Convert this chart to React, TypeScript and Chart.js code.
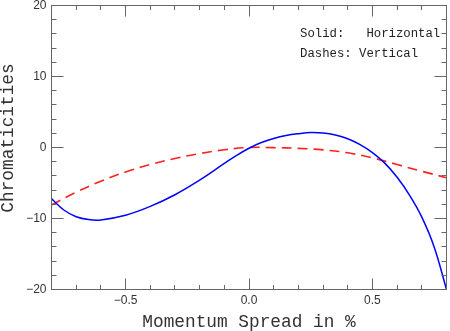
import React, { useEffect, useRef } from "react";
import { Chart, registerables } from "chart.js";

Chart.register(...registerables);

// Momentum spread (%) and chromaticities
const momentumH = [-0.8, -0.75, -0.7, -0.65, -0.6, -0.5, -0.4, -0.3, -0.2, -0.1, -0.05, 0, 0.05, 0.1, 0.15, 0.2, 0.25, 0.3, 0.35, 0.4, 0.45, 0.5, 0.55, 0.6, 0.65, 0.7, 0.75, 0.8];
const chromaH = [-7.2, -8.8, -9.75, -10.15, -10.2, -9.55, -8.3, -6.65, -4.6, -2.25, -1.1, -0.1, 0.7, 1.28, 1.7, 1.95, 2.1, 2.03, 1.75, 1.23, 0.4, -0.72, -2.2, -4.2, -6.7, -9.8, -14.0, -20.0];

const momentumV = [-0.8, -0.7, -0.6, -0.5, -0.4, -0.3, -0.2, -0.1, 0, 0.1, 0.2, 0.3, 0.4, 0.5, 0.6, 0.7, 0.8];
const chromaV = [-8.1, -6.3, -4.75, -3.45, -2.4, -1.55, -0.85, -0.32, 0, -0.02, -0.12, -0.33, -0.75, -1.45, -2.4, -3.35, -4.25];

const xTitle = "Momentum Spread in %";
const yTitle = "Chromaticities";
const legendLines = ["Solid:   Horizontal", "Dashes: Vertical"];

const xMajorStep = 0.5;
const yMajorStep = 10;

const isMajor = (v: number, step: number) => {
  const r = v / step;
  return Math.abs(r - Math.round(r)) < 1e-6;
};
const fmt = (s: string) => s.replace("-", "\u2212");

const MONO = '"Liberation Mono", "Courier New", monospace';
const SANS = '"Liberation Sans", Arial, sans-serif';

const framePlugin = {
  id: "frameTicks",
  afterDraw(chart: any) {
    const { ctx, chartArea, scales } = chart;
    const { left, right, top, bottom } = chartArea;
    const xs = scales.x;
    const ys = scales.y;
    const L = Math.floor(left) + 0.5;
    const R = Math.floor(right) + 0.5;
    const T = Math.floor(top) + 0.5;
    const B = Math.floor(bottom) + 0.5;
    ctx.save();
    ctx.strokeStyle = "#666";
    ctx.lineWidth = 1;
    ctx.strokeRect(L, T, R - L, B - T);
    ctx.beginPath();
    xs.ticks.forEach((t: any) => {
      const px = Math.floor(xs.getPixelForValue(t.value)) + 0.5;
      const len = isMajor(t.value, xMajorStep) ? 11 : 4.5;
      ctx.moveTo(px, B);
      ctx.lineTo(px, B - len);
      ctx.moveTo(px, T);
      ctx.lineTo(px, T + len);
    });
    ys.ticks.forEach((t: any) => {
      const py = Math.floor(ys.getPixelForValue(t.value)) + 0.5;
      const len = isMajor(t.value, yMajorStep) ? 12 : 5;
      ctx.moveTo(L, py);
      ctx.lineTo(L + len, py);
      ctx.moveTo(R, py);
      ctx.lineTo(R - len, py);
    });
    ctx.stroke();

    // legend text
    ctx.fillStyle = "#222";
    ctx.font = `12.3px ${MONO}`;
    ctx.textAlign = "left";
    ctx.textBaseline = "alphabetic";
    ctx.fillText(legendLines[0], 300, 37.3);
    ctx.fillText(legendLines[1], 300, 56.7);

    // axis titles
    ctx.fillStyle = "#333";
    ctx.font = `17.8px ${MONO}`;
    ctx.textAlign = "center";
    ctx.fillText(xTitle, (left + right) / 2, 326.7);
    ctx.save();
    ctx.translate(13.3, 138);
    ctx.rotate(-Math.PI / 2);
    ctx.fillText(yTitle, 0, 0);
    ctx.restore();
    ctx.restore();
  },
};

export default function App() {
  const ref = useRef<HTMLCanvasElement>(null);
  useEffect(() => {
    const canvas = ref.current;
    if (!canvas) return;
    const chart = new Chart(canvas, {
      type: "line",
      data: {
        datasets: [
          {
            label: "Horizontal",
            data: momentumH.map((x, i) => ({ x, y: chromaH[i] })),
            borderColor: "#0000ff",
            borderWidth: 1.5,
            pointRadius: 0,
            tension: 0.4,
            fill: false,
          },
          {
            label: "Vertical",
            data: momentumV.map((x, i) => ({ x, y: chromaV[i] })),
            borderColor: "#ff2020",
            borderWidth: 1.6,
            borderDash: [10, 6],
            pointRadius: 0,
            tension: 0.4,
            fill: false,
          },
        ],
      },
      options: {
        responsive: false,
        animation: false,
        layout: { padding: { top: 5.5, right: 3.5, left: 0, bottom: 0 } },
        plugins: { legend: { display: false }, tooltip: { enabled: false } },
        scales: {
          x: {
            type: "linear",
            min: -0.8,
            max: 0.8,
            grid: { display: false, drawTicks: false },
            border: { display: false },
            ticks: {
              stepSize: 0.1,
              autoSkip: false,
              maxRotation: 0,
              padding: 4,
              color: "#333",
              font: { family: SANS, size: 12 },
              callback: (v: any) => (isMajor(Number(v), xMajorStep) ? fmt((Math.round(Number(v) / xMajorStep) * xMajorStep).toFixed(1)) : ""),
            },
            afterFit: (s: any) => {
              s.height = 41.5;
              s.paddingLeft = 0;
              s.paddingRight = 0;
            },
          },
          y: {
            type: "linear",
            min: -20,
            max: 20,
            grid: { display: false, drawTicks: false },
            border: { display: false },
            ticks: {
              stepSize: 2,
              autoSkip: false,
              padding: 5,
              color: "#333",
              font: { family: SANS, size: 12 },
              callback: (v: any) => (isMajor(Number(v), yMajorStep) ? fmt(String(Math.round(Number(v)))) : ""),
            },
            afterFit: (s: any) => {
              s.width = 51.5;
              s.paddingTop = 0;
              s.paddingBottom = 0;
            },
          },
        },
      },
      plugins: [framePlugin],
    });
    return () => chart.destroy();
  }, []);
  return (
    <div style={{ position: "fixed", left: 0, top: 0, width: 450, height: 331, background: "#fff" }}>
      <canvas ref={ref} width={450} height={331} style={{ display: "block" }} />
    </div>
  );
}
